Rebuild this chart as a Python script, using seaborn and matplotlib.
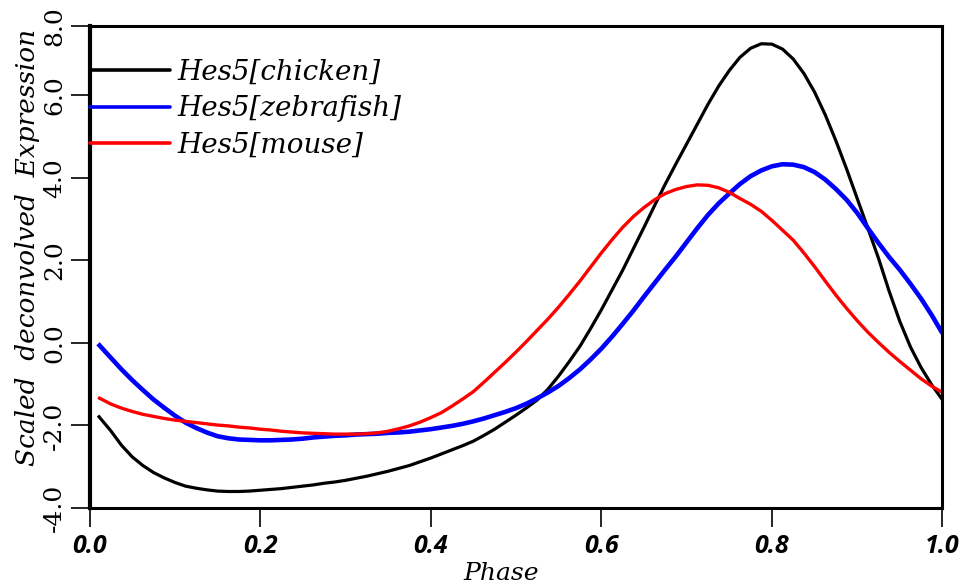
import numpy as np
import pandas as pd
import matplotlib
matplotlib.use("Agg")
import matplotlib.pyplot as plt
import seaborn as sns

# phase grid and curves
phase = [0.01, 0.025, 0.0375, 0.05, 0.0625, 0.075, 0.0875, 0.1, 0.1125, 0.125,
         0.1375, 0.15, 0.1625, 0.175, 0.1875, 0.2, 0.2125, 0.225, 0.2375, 0.25,
         0.2625, 0.275, 0.2875, 0.3, 0.3125, 0.325, 0.3375, 0.35, 0.3625, 0.375,
         0.3875, 0.4, 0.4125, 0.425, 0.4375, 0.45, 0.4625, 0.475, 0.4875, 0.5,
         0.5125, 0.525, 0.5375, 0.55, 0.5625, 0.575, 0.5875, 0.6, 0.6125, 0.625,
         0.6375, 0.65, 0.6625, 0.675, 0.6875, 0.7, 0.7125, 0.725, 0.7375, 0.75,
         0.7625, 0.775, 0.7875, 0.8, 0.8125, 0.825, 0.8375, 0.85, 0.8625, 0.875,
         0.8875, 0.9, 0.9125, 0.925, 0.9375, 0.95, 0.9625, 0.975, 0.9875, 1.0]

chicken = [-1.76, -2.13, -2.48, -2.76, -2.97, -3.14, -3.27, -3.38, -3.47, -3.52,
           -3.56, -3.59, -3.60, -3.60, -3.59, -3.57, -3.55, -3.53, -3.50, -3.47,
           -3.44, -3.40, -3.37, -3.33, -3.28, -3.23, -3.17, -3.11, -3.04, -2.97,
           -2.88, -2.79, -2.69, -2.59, -2.49, -2.38, -2.24, -2.09, -1.92, -1.75,
           -1.57, -1.38, -1.12, -0.80, -0.45, -0.08, 0.35, 0.80, 1.28, 1.76,
           2.28, 2.80, 3.33, 3.85, 4.34, 4.82, 5.30, 5.78, 6.22, 6.60,
           6.92, 7.14, 7.25, 7.24, 7.12, 6.88, 6.53, 6.08, 5.53, 4.90,
           4.22, 3.50, 2.78, 2.05, 1.25, 0.52, -0.10, -0.60, -1.02, -1.38]

zebrafish = [-0.02, -0.36, -0.64, -0.90, -1.14, -1.37, -1.57, -1.76, -1.93, -2.06,
             -2.17, -2.26, -2.31, -2.34, -2.35, -2.36, -2.36, -2.35, -2.34, -2.32,
             -2.29, -2.27, -2.25, -2.24, -2.22, -2.21, -2.20, -2.18, -2.17, -2.15,
             -2.12, -2.09, -2.05, -2.01, -1.96, -1.90, -1.83, -1.75, -1.67, -1.58,
             -1.47, -1.34, -1.20, -1.04, -0.85, -0.64, -0.40, -0.14, 0.15, 0.46,
             0.78, 1.12, 1.45, 1.78, 2.10, 2.44, 2.78, 3.10, 3.38, 3.62,
             3.85, 4.04, 4.18, 4.28, 4.33, 4.32, 4.26, 4.14, 3.96, 3.73,
             3.47, 3.15, 2.78, 2.42, 2.08, 1.77, 1.43, 1.07, 0.67, 0.23]

mouse = [-1.32, -1.48, -1.58, -1.66, -1.73, -1.78, -1.83, -1.87, -1.90, -1.93,
         -1.96, -1.99, -2.01, -2.04, -2.06, -2.09, -2.11, -2.14, -2.16, -2.18,
         -2.19, -2.20, -2.21, -2.21, -2.21, -2.20, -2.18, -2.14, -2.08, -2.01,
         -1.92, -1.81, -1.69, -1.53, -1.36, -1.18, -0.95, -0.71, -0.47, -0.22,
         0.04, 0.31, 0.58, 0.87, 1.18, 1.50, 1.84, 2.18, 2.50, 2.80,
         3.06, 3.28, 3.47, 3.62, 3.72, 3.79, 3.83, 3.82, 3.76, 3.65,
         3.50, 3.36, 3.19, 2.97, 2.73, 2.49, 2.18, 1.85, 1.50, 1.16,
         0.84, 0.54, 0.26, 0.01, -0.23, -0.45, -0.66, -0.87, -1.05, -1.20]

series = ["Hes5[chicken]", "Hes5[zebrafish]", "Hes5[mouse]"]
colors = ["#000000", "#0000FF", "#FF0000"]
widths = [2.3, 3.3, 2.4]

x_ticks = [0.0, 0.2, 0.4, 0.6, 0.8, 1.0]
x_labels = ["0.0", "0.2", "0.4", "0.6", "0.8", "1.0"]
y_ticks = [-4, -2, 0, 2, 4, 6, 7.68]
y_labels = ["-4.0", "-2.0", "0.0", "2.0", "4.0", "6.0", "8.0"]

df = pd.concat([
    pd.DataFrame({"phase": phase, "expr": vals, "gene": name})
    for name, vals in zip(series, [chicken, zebrafish, mouse])
])

sns.set_style("ticks")
plt.rcParams["font.family"] = ["DejaVu Serif"]
for key in ["text.color", "axes.labelcolor", "xtick.color", "ytick.color"]:
    plt.rcParams[key] = "black"
plt.rcParams["xtick.major.size"] = 14
plt.rcParams["ytick.major.size"] = 14
plt.rcParams["xtick.major.width"] = 1.2
plt.rcParams["ytick.major.width"] = 1.2

fig, ax = plt.subplots(figsize=(9.79, 5.88), dpi=100)
fig.subplots_adjust(left=89.5 / 979, right=942.5 / 979,
                    bottom=80 / 588, top=562 / 588)

sns.lineplot(data=df, x="phase", y="expr", hue="gene", hue_order=series,
             palette=colors, ax=ax, legend=False)
for line, lw in zip(ax.get_lines(), widths):
    line.set_linewidth(lw)
    line.set_solid_capstyle("butt")
    line.set_solid_joinstyle("round")

ax.set_xlim(0, 1)
ax.set_ylim(-4, 7.68)

ax.set_xticks(x_ticks)
ax.set_xticklabels(x_labels, family="Open Sans", fontweight="bold",
                   fontstyle="italic", fontsize=18)
ax.set_yticks(y_ticks)
ax.set_yticklabels(y_labels, family="DejaVu Serif", fontsize=18,
                   rotation=90, va="center")
ax.tick_params(axis="both", direction="out", length=14, width=1.2,
               color="black", labelcolor="black")
ax.tick_params(axis="y", pad=3)
ax.tick_params(axis="x", pad=5)

for side in ["top", "right", "bottom"]:
    ax.spines[side].set_linewidth(2.2)
    ax.spines[side].set_color("black")
ax.spines["left"].set_linewidth(3.0)
ax.spines["left"].set_color("black")

ax.set_xlabel("Phase", fontstyle="italic", fontsize=18)
ax.xaxis.set_label_coords(0.482, -0.112)
ax.set_ylabel("Scaled  deconvolved  Expression", fontstyle="italic", fontsize=19)
ax.yaxis.set_label_coords(-0.058, 0.54)

handles = [plt.Line2D([], [], color=c, lw=2.6) for c in colors]
ax.legend(handles, series, loc="upper left", bbox_to_anchor=(0.0, 0.932),
          frameon=False, handlelength=2.9, handletextpad=0.25,
          labelspacing=0.35, borderpad=0, borderaxespad=0,
          prop={"family": "DejaVu Serif", "style": "italic", "size": 20})

# make sure the tick marks are drawn on top
ax.set_axisbelow(False)
for tick in ax.xaxis.get_major_ticks() + ax.yaxis.get_major_ticks():
    tick.tick1line.set_visible(True)
    tick.tick1line.set_markersize(14)
    tick.tick1line.set_markeredgewidth(1.2)
    tick.tick1line.set_markeredgecolor("black")
    tick.tick1line.set_zorder(5)

fig.savefig("out.png", dpi=100)
